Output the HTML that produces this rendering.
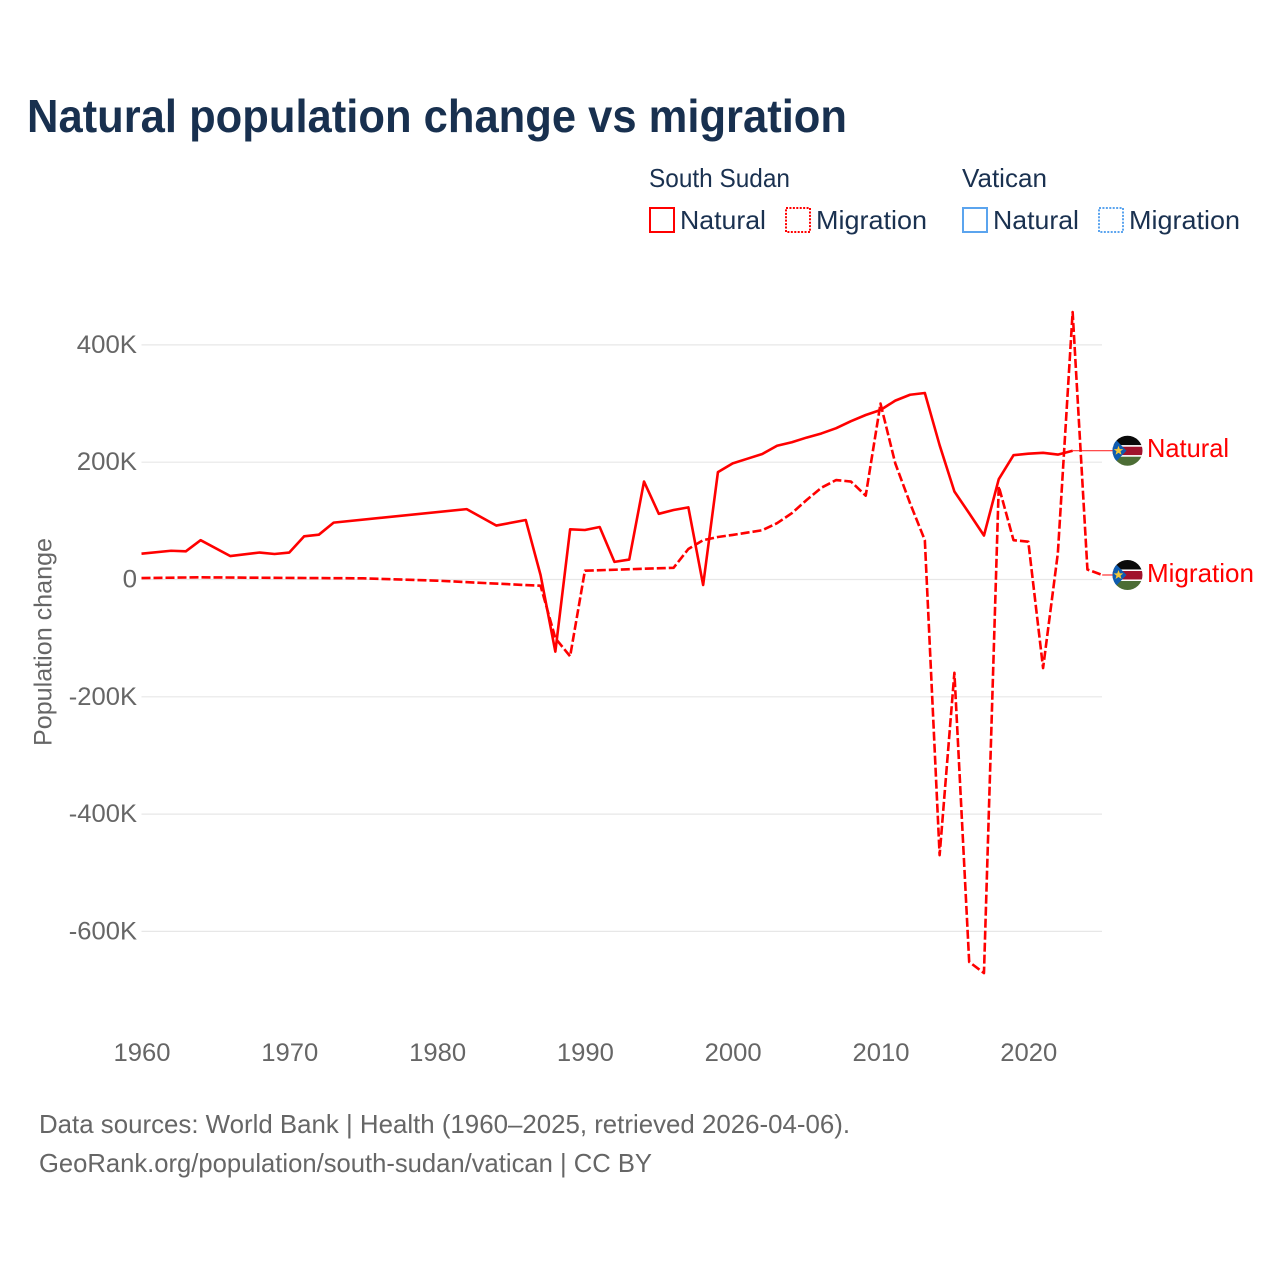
<!DOCTYPE html>
<html lang="en">
<head>
<meta charset="utf-8">
<title>Natural population change vs migration</title>
<style>
html,body{margin:0;padding:0;background:#fff;width:1280px;height:1280px;overflow:hidden}
svg{display:block}
text{font-family:"Liberation Sans",sans-serif}
</style>
</head>
<body>
<svg id="chart" width="1280" height="1280" viewBox="0 0 1280 1280" xmlns="http://www.w3.org/2000/svg">
  <defs>
    <clipPath id="flag-clip"><circle cx="0" cy="0" r="15"></circle></clipPath>
  </defs>
  <rect width="1280" height="1280" fill="#fff"></rect>
  <text x="27" y="132" font-size="46" font-weight="700" fill="#18304f" textLength="820" lengthAdjust="spacingAndGlyphs">Natural population change vs migration</text>

  <g font-size="26" fill="#1a3150">
    <text x="649" y="187" textLength="141" lengthAdjust="spacingAndGlyphs">South Sudan</text>
    <text x="962" y="187" textLength="85" lengthAdjust="spacingAndGlyphs">Vatican</text>
    <rect x="650" y="208" width="24" height="24" fill="none" stroke="#ff0000" stroke-width="2"></rect>
    <text x="680" y="229" textLength="86" lengthAdjust="spacingAndGlyphs">Natural</text>
    <rect x="786" y="208" width="24" height="24" fill="none" stroke="#ff0000" stroke-width="2" stroke-dasharray="2 1.43"></rect>
    <text x="816" y="229" textLength="111" lengthAdjust="spacingAndGlyphs">Migration</text>
    <rect x="963" y="208" width="24" height="24" fill="none" stroke="#5ba4ee" stroke-width="2"></rect>
    <text x="993" y="229" textLength="86" lengthAdjust="spacingAndGlyphs">Natural</text>
    <rect x="1099" y="208" width="24" height="24" fill="none" stroke="#5ba4ee" stroke-width="2" stroke-dasharray="2 1.43"></rect>
    <text x="1129" y="229" textLength="111" lengthAdjust="spacingAndGlyphs">Migration</text>
  </g>

  <g id="grid"></g>
  <g id="y-axis"></g>
  <g id="x-axis"></g>
  <text transform="translate(51.5,746) rotate(-90)" font-size="25" fill="#666" textLength="208" lengthAdjust="spacingAndGlyphs">Population change</text>
  <g id="series"></g>
  <g id="end-labels"></g>

  <g font-size="26" fill="#666">
    <text x="39" y="1133" textLength="811" lengthAdjust="spacingAndGlyphs">Data sources: World Bank | Health (1960–2025, retrieved 2026-04-06).</text>
    <text x="39" y="1172" textLength="613" lengthAdjust="spacingAndGlyphs">GeoRank.org/population/south-sudan/vatican | CC BY</text>
  </g>
</svg>
<script>
const yTicks = [400, 200, 0, -200, -400, -600];
const yTickLabels = ["400K", "200K", "0", "-200K", "-400K", "-600K"];
const xTicks = [1960, 1970, 1980, 1990, 2000, 2010, 2020];
const xTickLabels = ["1960", "1970", "1980", "1990", "2000", "2010", "2020"];

const naturalYears = [1960, 1962, 1963, 1964, 1966, 1968, 1969, 1970, 1971, 1972, 1973, 1982, 1984, 1986, 1987, 1988, 1989, 1990, 1991, 1992, 1993, 1994, 1995, 1996, 1997, 1998, 1999, 2000, 2001, 2002, 2003, 2004, 2005, 2006, 2007, 2008, 2009, 2010, 2011, 2012, 2013, 2014, 2015, 2016, 2017, 2018, 2019, 2020, 2021, 2022, 2023];
const naturalValues = [44, 49, 48, 67, 40, 46, 43.5, 46, 73.6, 76.4, 97, 120, 92, 101.4, 7.7, -123, 85.6, 84.4, 89.5, 30, 34, 167, 112, 118.5, 123, -9.4, 183, 198, 206, 214, 228, 234, 242, 249, 258, 270, 280.5, 289, 305, 315, 318, 229, 150, 113, 75, 171, 212, 214.5, 216, 213, 219.6];

const migrationYears = [1960, 1964, 1968, 1975, 1980, 1986, 1987, 1988, 1989, 1990, 1996, 1997, 1998, 1999, 2000, 2001, 2002, 2003, 2004, 2005, 2006, 2007, 2008, 2009, 2010, 2011, 2012, 2013, 2014, 2015, 2016, 2017, 2018, 2019, 2020, 2021, 2022, 2023, 2024, 2025];
const migrationValues = [2.5, 3.7, 3, 2, -2, -9.5, -10.5, -100, -131, 15, 20, 52, 67, 72.5, 76, 80, 84, 96, 113, 135.6, 156.5, 169.6, 167, 143, 300, 198, 130, 67, -470, -159, -652, -671, 159, 67, 64.5, -151, 45, 456, 17, 7.7];

const SVGNS = "http://www.w3.org/2000/svg";
const xScale = function (year) { return 141.5 + (year - 1960) * 14.78; };
const yScale = function (v) { return 579.5 - v * 0.5865; };
const xLeft = 141.5;
const xRight = 1102;
const flagX = 1127.5;

function make(tag, parent) {
  const el = document.createElementNS(SVGNS, tag);
  parent.appendChild(el);
  return el;
}
function toPoints(years, values) {
  return years.map(function (y, i) { return xScale(y).toFixed(2) + "," + yScale(values[i]).toFixed(2); }).join(" ");
}
function labelWidth(s) {
  let w = 0;
  for (const c of s) { w += c === "K" ? 17 : c === "-" ? 8 : 14.4; }
  return w;
}

const grid = document.getElementById("grid");
const yAxis = document.getElementById("y-axis");
yTicks.forEach(function (t, i) {
  const line = make("line", grid);
  
  
  line.setAttribute("x1", xLeft);
  line.setAttribute("x2", xRight);
  line.setAttribute("y1", yScale(t));
  line.setAttribute("y2", yScale(t));
  line.setAttribute("stroke", "#e7e7e7");
  line.setAttribute("stroke-width", "1.2");
  const lab = make("text", yAxis);
  
  
  lab.setAttribute("x", 137 - labelWidth(yTickLabels[i]));
  lab.setAttribute("y", yScale(t) + 8);
  lab.setAttribute("font-size", "25");
  lab.setAttribute("fill", "#666");
  lab.setAttribute("textLength", labelWidth(yTickLabels[i]));
  lab.setAttribute("lengthAdjust", "spacingAndGlyphs");
  lab.textContent = yTickLabels[i];
});

const xAxis = document.getElementById("x-axis");
xTicks.forEach(function (t, i) {
  const lab = make("text", xAxis);
  
  
  lab.setAttribute("x", xScale(t) - 28);
  lab.setAttribute("y", 1061);
  lab.setAttribute("font-size", "25");
  lab.setAttribute("fill", "#666");
  lab.setAttribute("textLength", "57");
  lab.setAttribute("lengthAdjust", "spacingAndGlyphs");
  lab.textContent = xTickLabels[i];
});

const series = document.getElementById("series");
const naturalLine = make("polyline", series);


naturalLine.setAttribute("points", toPoints(naturalYears, naturalValues));
naturalLine.setAttribute("fill", "none");
naturalLine.setAttribute("stroke", "#ff0000");
naturalLine.setAttribute("stroke-width", "2.6");
naturalLine.setAttribute("stroke-linejoin", "round");

const migrationLine = make("polyline", series);


migrationLine.setAttribute("points", toPoints(migrationYears, migrationValues));
migrationLine.setAttribute("fill", "none");
migrationLine.setAttribute("stroke", "#ff0000");
migrationLine.setAttribute("stroke-width", "2.6");
migrationLine.setAttribute("stroke-dasharray", "9 3");
migrationLine.setAttribute("stroke-linejoin", "round");

const endLabels = document.getElementById("end-labels");
function drawEnd(years, values, text, width, baselineOffset) {
  const lastX = xScale(years[years.length - 1]);
  const lastY = yScale(values[values.length - 1]);
  const conn = make("line", endLabels);
  
  
  conn.setAttribute("x1", lastX);
  conn.setAttribute("y1", lastY);
  conn.setAttribute("x2", flagX - 14);
  conn.setAttribute("y2", lastY);
  conn.setAttribute("stroke", "#ff0000");
  conn.setAttribute("stroke-opacity", "0.8");
  conn.setAttribute("stroke-width", "1.2");

  const flag = make("g", endLabels);
  
  
  flag.setAttribute("transform", "translate(" + flagX + "," + lastY + ")");
  const inner = make("g", flag);
  inner.setAttribute("clip-path", "url(#flag-clip)");
  const bands = [[-16, 10.5, "#0a0a0a"], [-5.5, 1.5, "#ffffff"], [-4, 8.5, "#a0122c"], [4.5, 1.5, "#ffffff"], [6, 10, "#4c6d35"]];
  bands.forEach(function (b) {
    const r = make("rect", inner);
    r.setAttribute("x", -16);
    r.setAttribute("y", b[0]);
    r.setAttribute("width", 32);
    r.setAttribute("height", b[1]);
    r.setAttribute("fill", b[2]);
  });
  const tri = make("polygon", inner);
  tri.setAttribute("points", "-16,-15.5 -1,0 -16,15.5");
  tri.setAttribute("fill", "#0f5cb0");
  const star = make("polygon", inner);
  star.setAttribute("points", "-9,-5 -7.7,-1.6 -4.2,-1.6 -7,0.6 -6,4 -9,2 -12,4 -11,0.6 -13.8,-1.6 -10.3,-1.6");
  star.setAttribute("fill", "#f4c83a");

  const lab = make("text", endLabels);
  
  
  lab.setAttribute("x", 1147);
  lab.setAttribute("y", lastY + baselineOffset);
  lab.setAttribute("font-size", "26");
  lab.setAttribute("fill", "#ff0000");
  lab.setAttribute("textLength", width);
  lab.setAttribute("lengthAdjust", "spacingAndGlyphs");
  lab.textContent = text;
}
drawEnd(naturalYears, naturalValues, "Natural", 82, 6.5);
drawEnd(migrationYears, migrationValues, "Migration", 107, 7);
</script>
</body>
</html>
